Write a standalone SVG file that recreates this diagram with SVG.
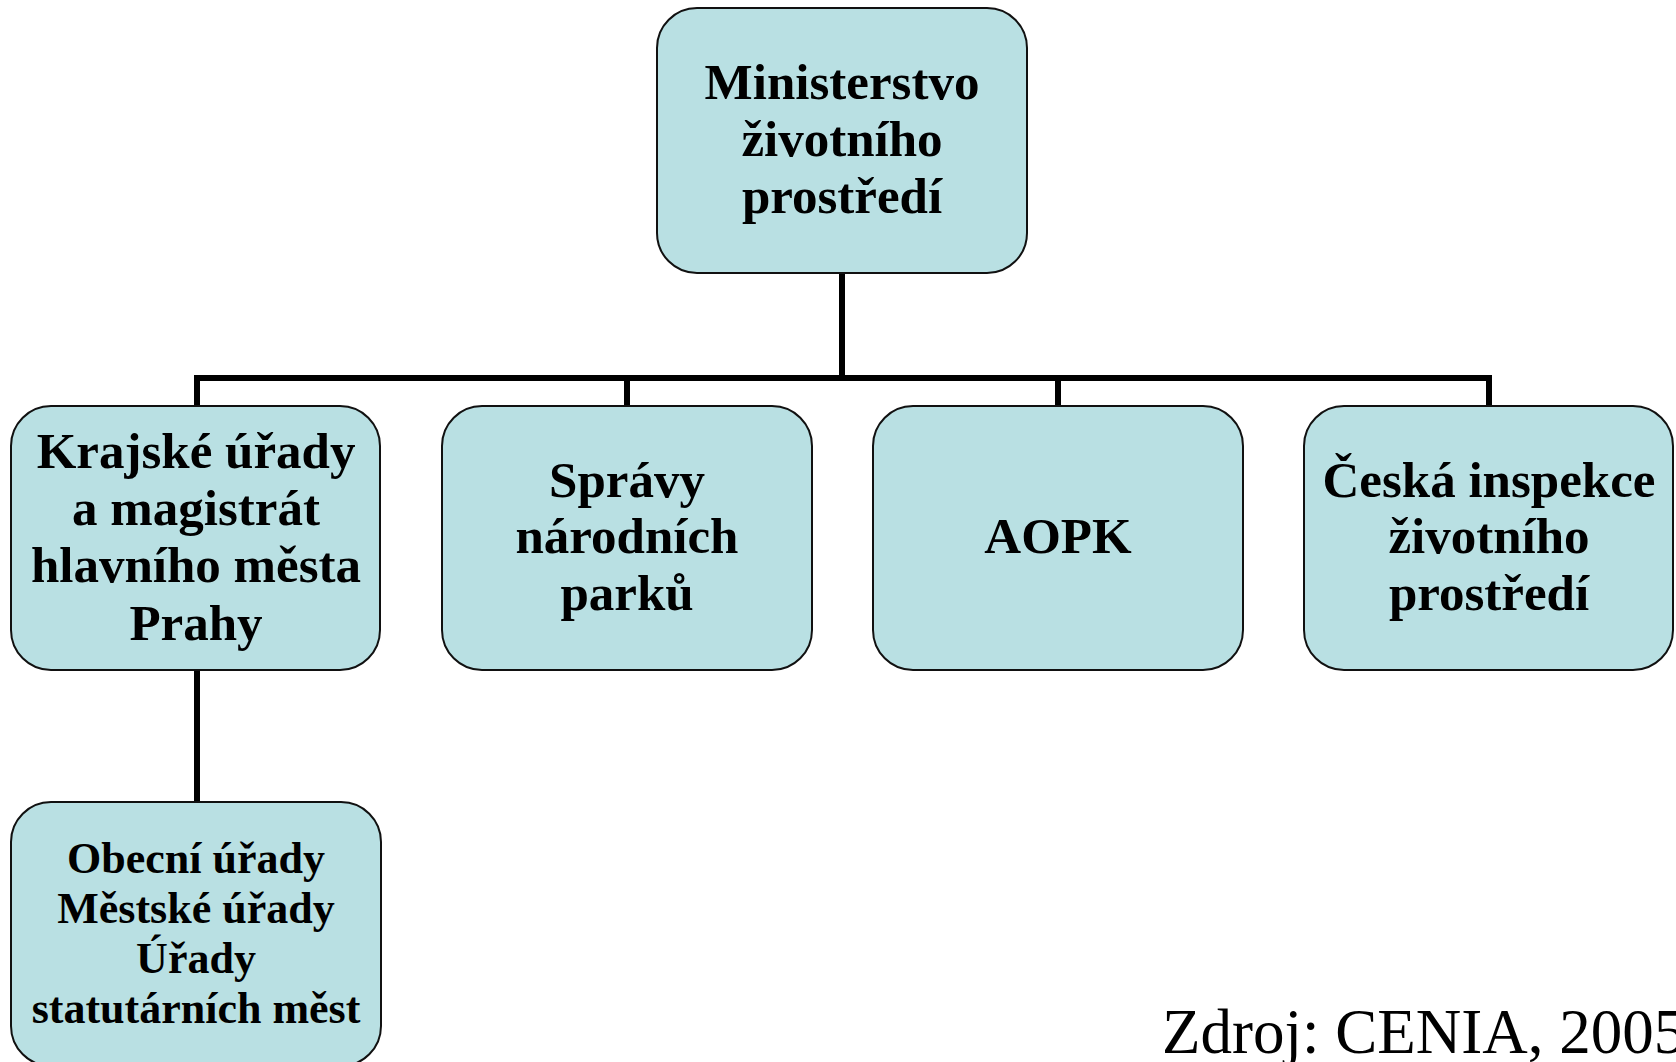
<svg xmlns="http://www.w3.org/2000/svg" width="1676" height="1062" viewBox="0 0 1676 1062">
<style>
.box{fill:#B9E0E3;stroke:#111;stroke-width:2}
.lbl{font-family:"Liberation Serif","Times New Roman",serif;font-weight:bold;font-size:51px;fill:#000;text-anchor:middle}
.sm{font-size:44px}
.conn{stroke:#000;stroke-width:6;fill:none}
.src{font-family:"Liberation Serif","Times New Roman",serif;font-size:63px;fill:#000}
</style>
<rect width="1676" height="1062" fill="#fff"/>
<g id="connectors">
<line class="conn" x1="842" y1="273" x2="842" y2="378"/>
<polyline class="conn" points="197,406 197,378 1489,378 1489,406"/>
<line class="conn" x1="627" y1="378" x2="627" y2="406"/>
<line class="conn" x1="1058" y1="378" x2="1058" y2="406"/>
<line class="conn" x1="197" y1="670" x2="197" y2="802"/>
</g>
<g id="ministerstvo">
<rect class="box" x="657" y="8" width="370" height="265" rx="40"/>
<text class="lbl" x="842" y="99">Ministerstvo</text>
<text class="lbl" x="842" y="156">životního</text>
<text class="lbl" x="842" y="213">prostředí</text>
</g>
<g id="krajske">
<rect class="box" x="11" y="406" width="369" height="264" rx="40"/>
<text class="lbl" x="196" y="468">Krajské úřady</text>
<text class="lbl" x="196" y="525">a magistrát</text>
<text class="lbl" x="196" y="582">hlavního města</text>
<text class="lbl" x="196" y="640">Prahy</text>
</g>
<g id="spravy">
<rect class="box" x="442" y="406" width="370" height="264" rx="40"/>
<text class="lbl" x="627" y="497">Správy</text>
<text class="lbl" x="627" y="553">národních</text>
<text class="lbl" x="627" y="610">parků</text>
</g>
<g id="aopk">
<rect class="box" x="873" y="406" width="370" height="264" rx="40"/>
<text class="lbl" x="1058" y="553">AOPK</text>
</g>
<g id="cizp">
<rect class="box" x="1304" y="406" width="369" height="264" rx="40"/>
<text class="lbl" x="1489" y="497">Česká inspekce</text>
<text class="lbl" x="1489" y="553">životního</text>
<text class="lbl" x="1489" y="610">prostředí</text>
</g>
<g id="obecni">
<rect class="box" x="11" y="802" width="370" height="264" rx="40"/>
<text class="lbl sm" x="196" y="873">Obecní úřady</text>
<text class="lbl sm" x="196" y="923">Městské úřady</text>
<text class="lbl sm" x="196" y="973">Úřady</text>
<text class="lbl sm" x="196" y="1023">statutárních měst</text>
</g>
<text class="src" x="1162" y="1053">Zdroj: CENIA, 2005</text>
</svg>
